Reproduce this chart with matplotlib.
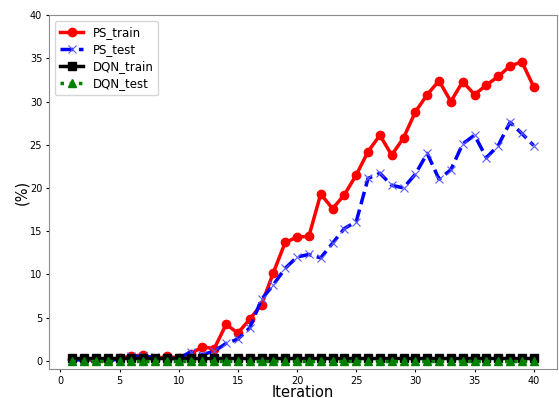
import numpy as np
import matplotlib
matplotlib.use('Agg')
import matplotlib.pyplot as plt

iterations = np.arange(1, 41)

ps_train = [0.2, 0.1, 0.1, 0.1, 0.3, 0.5, 0.7, 0.2, 0.5, 0.3,
            0.8, 1.6, 1.4, 4.2, 3.2, 4.8, 6.5, 10.2, 13.7, 14.3,
            14.4, 19.3, 17.6, 19.2, 21.5, 24.2, 26.1, 23.8, 25.8, 28.8,
            30.8, 32.4, 30.0, 32.3, 30.8, 31.9, 32.9, 34.1, 34.6, 31.7]
ps_test = [0.1, 0.1, 0.0, 0.0, 0.2, 0.5, 0.5, 0.4, 0.2, 0.3,
           1.0, 0.7, 1.1, 2.0, 2.5, 3.8, 7.1, 8.8, 10.7, 12.0,
           12.3, 11.9, 13.6, 15.3, 16.1, 21.1, 21.7, 20.3, 20.0, 21.6,
           24.0, 21.0, 22.1, 25.1, 26.1, 23.5, 24.9, 27.6, 26.3, 24.9]
dqn_train = [0.3] * 40
dqn_test = [0.0] * 40

fig, ax = plt.subplots(figsize=(5.59, 3.98), dpi=100)

ax.plot(iterations, ps_train, color='red', linestyle='-', linewidth=2.5,
        marker='o', markersize=6, label='PS_train')
ax.plot(iterations, ps_test, color='blue', linestyle='--', linewidth=2.5,
        marker='x', markersize=5.5, markeredgewidth=0.8,
        markeredgecolor='#5a5aff', label='PS_test')
ax.plot(iterations, dqn_train, color='black', linestyle='-', linewidth=2.5,
        marker='s', markersize=6, label='DQN_train')
ax.plot(iterations, dqn_test, color='green', linestyle=':', linewidth=2.5,
        marker='^', markersize=6, label='DQN_test')

ax.set_xlim(-0.95, 41.95)
ax.set_ylim(-1, 40)
ax.set_xticks(np.arange(0, 41, 5))
ax.set_yticks(np.arange(0, 41, 5))
ax.tick_params(labelsize=7, length=2.5, pad=2.5)
for spine in ax.spines.values():
    spine.set_edgecolor('#8c8c8c')

ax.set_xlabel('Iteration', fontsize=10.5, labelpad=-1)
ax.set_ylabel('(%)', fontsize=10.5, labelpad=0)
ax.legend(loc='upper left', fontsize=8.5, handlelength=2, labelspacing=0.35)

fig.subplots_adjust(left=0.088, right=0.996, top=0.962, bottom=0.072)
fig.savefig('out.png', dpi=100)
